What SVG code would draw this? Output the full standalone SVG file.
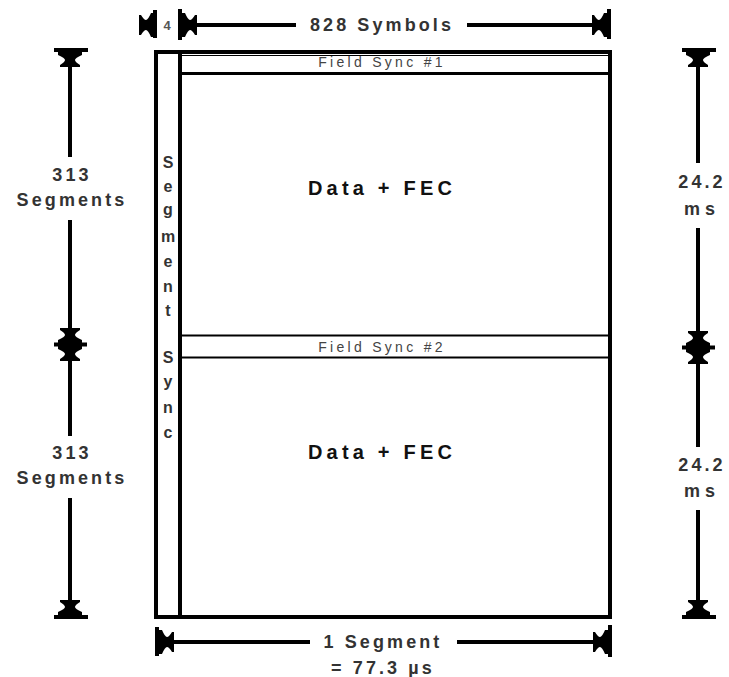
<svg xmlns="http://www.w3.org/2000/svg" xmlns:xlink="http://www.w3.org/1999/xlink" width="729" height="677" viewBox="0 0 729 677">
<style>
.ln{stroke:#000;fill:none}
.dim{stroke:#000;stroke-width:4;fill:none}
.tk{stroke:#000;stroke-width:4}
.lbl{font-family:"Liberation Sans",Arial,sans-serif;font-weight:bold;font-size:18px;fill:#333;letter-spacing:3.1px;text-anchor:middle}
.big{font-family:"Liberation Sans",Arial,sans-serif;font-weight:bold;font-size:20px;fill:#111;letter-spacing:4.2px;text-anchor:middle}
.fs{font-family:"Liberation Sans",Arial,sans-serif;font-size:14px;fill:#444;letter-spacing:3.3px;text-anchor:middle}
.ss{font-family:"Liberation Sans",Arial,sans-serif;font-weight:bold;font-size:16px;fill:#333;text-anchor:middle}
</style>
<defs>
<path id="ah" d="M-12,0 H12 V3 Q5,6 5,8 Q5,10 10,13 V15 H-10 V13 Q-5,10 -5,8 Q-5,6 -12,3 Z" fill="#000"/>
<clipPath id="fsclip"><rect x="182" y="56" width="426" height="16"/></clipPath>
</defs>
<rect width="729" height="677" fill="#fff"/>

<g id="frame">
<rect x="156" y="52" width="454" height="565" class="ln" stroke-width="4"/>
<line x1="180" y1="52" x2="180" y2="617" class="ln" stroke-width="4"/>
</g>

<g id="field-sync-1">
<line x1="180" y1="73.5" x2="610" y2="73.5" class="ln" stroke-width="3"/>
<line x1="180" y1="55.5" x2="610" y2="55.5" class="ln" stroke-width="1" stroke="#666"/>
<text x="382" y="67" class="fs" clip-path="url(#fsclip)">Field Sync #1</text>
</g>

<g id="data-fec-1">
<text x="382" y="195" class="big">Data + FEC</text>
</g>

<g id="field-sync-2">
<line x1="180" y1="335.5" x2="610" y2="335.5" class="ln" stroke-width="2"/>
<line x1="180" y1="357.5" x2="610" y2="357.5" class="ln" stroke-width="2"/>
<text x="382" y="352" class="fs">Field Sync #2</text>
</g>

<g id="data-fec-2">
<text x="382" y="459" class="big">Data + FEC</text>
</g>

<g id="segment-sync">
<text x="168" y="168" class="ss">S</text>
<text x="168" y="192" class="ss">e</text>
<text x="168" y="215" class="ss">g</text>
<text x="168" y="242" class="ss">m</text>
<text x="168" y="267" class="ss">e</text>
<text x="168" y="292" class="ss">n</text>
<text x="168" y="316" class="ss">t</text>
<text x="168" y="363" class="ss">S</text>
<text x="168" y="387" class="ss">y</text>
<text x="168" y="413" class="ss">n</text>
<text x="168" y="438" class="ss">c</text>
</g>

<g id="connectors">
<!-- top: 4 symbols -->
<line x1="155" y1="10" x2="155" y2="38" class="tk" stroke-width="3"/>
<use xlink:href="#ah" transform="translate(154,25) rotate(90)"/>
<line x1="180" y1="9" x2="180" y2="40" class="tk" stroke-width="2.5"/>
<use xlink:href="#ah" transform="translate(182,25) rotate(-90)"/>
<!-- top: 828 symbols -->
<line x1="192" y1="25" x2="296" y2="25" class="dim"/>
<line x1="467" y1="25" x2="598" y2="25" class="dim"/>
<use xlink:href="#ah" transform="translate(607,25) rotate(90)"/>
<line x1="609" y1="9" x2="609" y2="39" class="tk"/>

<!-- bottom: 1 segment -->
<line x1="157" y1="627" x2="157" y2="656" class="tk"/>
<use xlink:href="#ah" transform="translate(159,642) rotate(-90)"/>
<line x1="168" y1="642" x2="310" y2="642" class="dim"/>
<line x1="457" y1="642" x2="598" y2="642" class="dim"/>
<use xlink:href="#ah" transform="translate(608,642) rotate(90)"/>
<line x1="610" y1="625" x2="610" y2="657" class="tk"/>

<!-- left: 313 segments x2 -->
<line x1="54" y1="50" x2="88" y2="50" class="tk"/>
<use xlink:href="#ah" transform="translate(70,52)"/>
<line x1="70" y1="60" x2="70" y2="157" class="dim"/>
<line x1="70" y1="220" x2="70" y2="334" class="dim"/>
<use xlink:href="#ah" transform="translate(70,343) rotate(180)"/>
<line x1="54" y1="344.5" x2="87" y2="344.5" class="tk" stroke-width="2"/>
<use xlink:href="#ah" transform="translate(70,346)"/>
<line x1="70" y1="356" x2="70" y2="436" class="dim"/>
<line x1="70" y1="498" x2="70" y2="606" class="dim"/>
<use xlink:href="#ah" transform="translate(70,615) rotate(180)"/>
<line x1="54" y1="617" x2="88" y2="617" class="tk"/>

<!-- right: 24.2 ms x2 -->
<line x1="682" y1="50" x2="716" y2="50" class="tk"/>
<use xlink:href="#ah" transform="translate(698,52)"/>
<line x1="698" y1="60" x2="698" y2="163" class="dim"/>
<line x1="698" y1="228" x2="698" y2="337" class="dim"/>
<use xlink:href="#ah" transform="translate(698,346) rotate(180)"/>
<line x1="682" y1="347.5" x2="715" y2="347.5" class="tk" stroke-width="2"/>
<use xlink:href="#ah" transform="translate(698,349)"/>
<line x1="698" y1="359" x2="698" y2="447" class="dim"/>
<line x1="698" y1="510" x2="698" y2="606" class="dim"/>
<use xlink:href="#ah" transform="translate(698,615) rotate(180)"/>
<line x1="682" y1="617" x2="716" y2="617" class="tk"/>
</g>

<g id="labels">
<text x="167" y="30" class="lbl" style="font-size:13px;letter-spacing:0;fill:#555">4</text>
<text x="382" y="31" class="lbl">828 Symbols</text>
<text x="72" y="181" class="lbl">313</text>
<text x="72" y="206" class="lbl">Segments</text>
<text x="72" y="459" class="lbl">313</text>
<text x="72" y="484" class="lbl">Segments</text>
<text x="702" y="188" class="lbl">24.2</text>
<text x="702" y="215" class="lbl" style="letter-spacing:5px">ms</text>
<text x="702" y="471" class="lbl">24.2</text>
<text x="702" y="497" class="lbl" style="letter-spacing:5px">ms</text>
<text x="383" y="648" class="lbl">1 Segment</text>
<text x="383" y="674" class="lbl">= 77.3 µs</text>
</g>
</svg>
